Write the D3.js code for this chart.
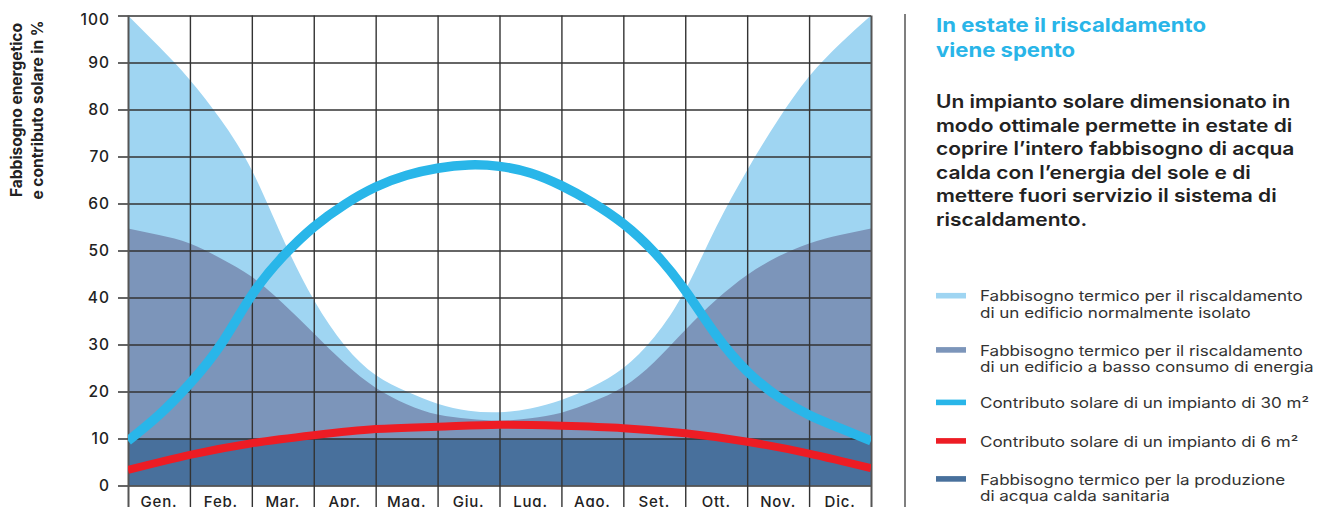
<!DOCTYPE html>
<html>
<head>
<meta charset="utf-8">
<script src="https://cdn.jsdelivr.net/npm/d3@7/dist/d3.min.js"></script>
<style>
  html, body { margin: 0; padding: 0; background: #fff; }
  svg { display: block; font-family: Inter, "Noto Sans", sans-serif; }
</style>
</head>
<body>
<svg id="chart" width="1325" height="507"></svg>
<script>
// Months along the x axis
const months = ["Gen.", "Feb.", "Mar.", "Apr.", "Mag.", "Giu.", "Lug.", "Ago.", "Set.", "Ott.", "Nov.", "Dic."];
const yTicks = [0, 10, 20, 30, 40, 50, 60, 70, 80, 90, 100];

// Sample positions in months (0 = start of January, 12 = end of December)
const halfMonths = [0, 0.5, 1, 1.5, 2, 2.5, 3, 3.5, 4, 4.5, 5, 5.5, 6, 6.5, 7, 7.5, 8, 8.5, 9, 9.5, 10, 10.5, 11, 11.5, 12];
const monthEdges = [0, 1, 2, 3, 4, 5, 6, 7, 8, 9, 10, 11, 12];

// Heating demand, normally insulated building (%)
const heatNormal = [100, 93.4, 86.3, 77.8, 67.1, 52.6, 39.5, 29.8, 23.5, 20, 17.4, 15.9, 15.6, 16.4, 18.2, 21, 25, 31.6, 41.6, 55, 67.1, 77.8, 87, 94, 100];
// Heating demand, low-energy building (%)
const heatLowEnergy = [54.7, 53.3, 51.5, 48.3, 44.4, 38.8, 32.4, 26, 20.8, 17.3, 15.1, 14.2, 13.8, 14.3, 15.5, 17.8, 21, 26.3, 33.1, 39.5, 44.8, 48.7, 51.5, 53.3, 54.7];
// Solar contribution, 30 m² system (%)
const solar30 = [9.5, 15, 21.7, 30, 40.5, 48.7, 55, 59.8, 63.5, 66, 67.5, 68.2, 67.9, 66.5, 63.8, 60.2, 55.7, 49.6, 41.5, 32, 24.3, 18.9, 15, 12.2, 9.5];
// Solar contribution, 6 m² system (%)
const solar6 = [3.3, 6.5, 9, 10.7, 12, 12.5, 12.9, 12.7, 12.2, 11.1, 9.3, 6.8, 3.7];
// Domestic hot water demand (%)
const hotWaterEdges = [0, 12];
const hotWater = [10, 10];

const titleLines = ["In estate il riscaldamento", "viene spento"];
const bodyLines = [
  "Un impianto solare dimensionato in",
  "modo ottimale permette in estate di",
  "coprire l\u2019intero fabbisogno di acqua",
  "calda con l\u2019energia del sole e di",
  "mettere fuori servizio il sistema di",
  "riscaldamento."
];
const legendLabels = [
  ["Fabbisogno termico per il riscaldamento", "di un edificio normalmente isolato"],
  ["Fabbisogno termico per il riscaldamento", "di un edificio a basso consumo di energia"],
  ["Contributo solare di un impianto di 30 m\u00b2"],
  ["Contributo solare di un impianto di 6 m\u00b2"],
  ["Fabbisogno termico per la produzione", "di acqua calda sanitaria"]
];
const yTitleLines = ["Fabbisogno energetico", "e contributo solare in %"];

const colors = {
  normal: "#9fd5f2",
  low: "#7c95ba",
  water: "#48709c",
  solar30: "#29b6e9",
  solar6: "#ed1c24",
  grid: "#333333",
  text: "#222222"
};
const legendColors = [colors.normal, colors.low, colors.solar30, colors.solar6, colors.water];

// Layout
const plot = { left: 128, right: 871, top: 15.5, bottom: 485.5 };
const svg = d3.select("#chart");

const x = d3.scaleLinear().domain([0, 12]).range([plot.left, plot.right]);
const y = d3.scaleLinear().domain([0, 100]).range([plot.bottom, plot.top]);
const xBand = d3.scaleBand().domain(months).range([plot.left, plot.right]);

const clipId = "plot-clip";
svg.append("defs").append("clipPath").attr("id", clipId)
  .append("rect")
  .attr("x", plot.left).attr("y", plot.top)
  .attr("width", plot.right - plot.left).attr("height", plot.bottom - plot.top);

const smooth = d3.curveNatural;

const areaGen = (xs) => d3.area()
  .x((d, i) => x(xs[i]))
  .y0(y(0))
  .y1(d => y(d))
  .curve(smooth);

const lineGen = (xs) => d3.line()
  .x((d, i) => x(xs[i]))
  .y(d => y(d))
  .curve(smooth);

const areas = svg.append("g").attr("clip-path", `url(#${clipId})`);
areas.append("path").datum(heatNormal).attr("fill", colors.normal).attr("d", areaGen(halfMonths));
areas.append("path").datum(heatLowEnergy).attr("fill", colors.low).attr("d", areaGen(halfMonths));
areas.append("path").datum(hotWater).attr("fill", colors.water).attr("d", areaGen(hotWaterEdges));

// Horizontal grid + y tick labels
const yAxis = d3.axisLeft(y)
  .tickValues(yTicks)
  .tickSize(-(plot.right - (plot.left - 10)))
  .tickPadding(8);
const yG = svg.append("g")
  .attr("transform", `translate(${plot.left - 10},0)`)
  .call(yAxis);
yG.select(".domain").remove();
yG.selectAll(".tick line").attr("stroke", colors.grid).attr("stroke-width", 1.4);
yG.selectAll(".tick text")
  .attr("fill", colors.text)
  .attr("font-size", 15.5)
  .attr("font-weight", 500)
  .attr("letter-spacing", 1)
  .attr("font-family", "Inter, sans-serif")
  .attr("dy", d => d === 100 ? "0.55em" : "0.34em");

// Vertical grid, extended below the plot as separators between month labels
const xGridAxis = d3.axisBottom(x)
  .tickValues(monthEdges)
  .tickSize(-(507 - plot.top))
  .tickFormat("");
const xG = svg.append("g")
  .attr("transform", "translate(0,507)")
  .call(xGridAxis);
xG.select(".domain").remove();
xG.selectAll(".tick line")
  .attr("stroke", (d) => (d === 0 || d === 12) ? "#555" : colors.grid)
  .attr("stroke-width", (d) => (d === 0 || d === 12) ? 2 : 1.4);

// Month labels
const mAxis = d3.axisBottom(xBand).tickSize(0).tickPadding(10.5);
const mG = svg.append("g")
  .attr("transform", `translate(0,${plot.bottom})`)
  .call(mAxis);
mG.select(".domain").remove();
mG.selectAll(".tick text")
  .attr("fill", colors.text)
  .attr("font-size", 15)
  .attr("font-weight", 500)
  .attr("letter-spacing", 0.8)
  .attr("font-family", "Inter, sans-serif");

// Solar contribution lines
const lines = svg.append("g").attr("clip-path", `url(#${clipId})`);
lines.append("path").datum(solar30)
  .attr("fill", "none").attr("stroke", colors.solar30).attr("stroke-width", 9.5)
  .attr("d", lineGen(halfMonths));
lines.append("path").datum(solar6)
  .attr("fill", "none").attr("stroke", colors.solar6).attr("stroke-width", 8)
  .attr("d", lineGen(monthEdges));

// Y axis title
const yTitle = svg.append("text")
  .attr("transform", "translate(21.5,110) rotate(-90)")
  .attr("text-anchor", "middle")
  .attr("font-size", 15.5)
  .attr("font-weight", 700)
  .attr("fill", colors.text);
yTitle.selectAll("tspan").data(yTitleLines).join("tspan")
  .attr("x", 0).attr("dy", (d, i) => i === 0 ? 0 : 21.5)
  .text(d => d);

// Side panel
svg.append("line")
  .attr("x1", 905).attr("x2", 905).attr("y1", 14).attr("y2", 507)
  .attr("stroke", "#555").attr("stroke-width", 1.5);

const panelX = 936;
svg.append("g")
  .attr("transform", `translate(${panelX},0) scale(1.145,1)`)
  .selectAll("text").data(titleLines).join("text")
  .attr("x", 0).attr("y", (d, i) => 32.3 + i * 24.4)
  .attr("font-size", 19.3).attr("font-weight", 700)
  .attr("fill", "#29b5e8")
  .text(d => d);

svg.append("g")
  .attr("transform", `translate(${panelX},0) scale(1.145,1)`)
  .selectAll("text").data(bodyLines).join("text")
  .attr("x", 0).attr("y", (d, i) => 108.5 + i * 23.5)
  .attr("font-size", 18.3).attr("font-weight", 600)
  .attr("fill", colors.text)
  .text(d => d);

const legendBaselines = [301.3, 355.5, 408, 446.5, 484.5];
const legend = svg.append("g").selectAll("g").data(legendLabels).join("g")
  .attr("transform", (d, i) => `translate(${panelX},${legendBaselines[i]})`);
legend.append("rect")
  .attr("x", 0).attr("y", -8.4).attr("width", 30).attr("height", 5.6)
  .attr("fill", (d, i) => legendColors[i]);
legend.append("g")
  .attr("transform", "translate(44,0) scale(1.19,1)")
  .append("text")
  .attr("font-size", 14.3).attr("font-weight", 400).attr("fill", "#333")
  .selectAll("tspan").data(d => d).join("tspan")
  .attr("x", 0).attr("y", (d, i) => i * 16.9)
  .text(d => d);
</script>
</body>
</html>
